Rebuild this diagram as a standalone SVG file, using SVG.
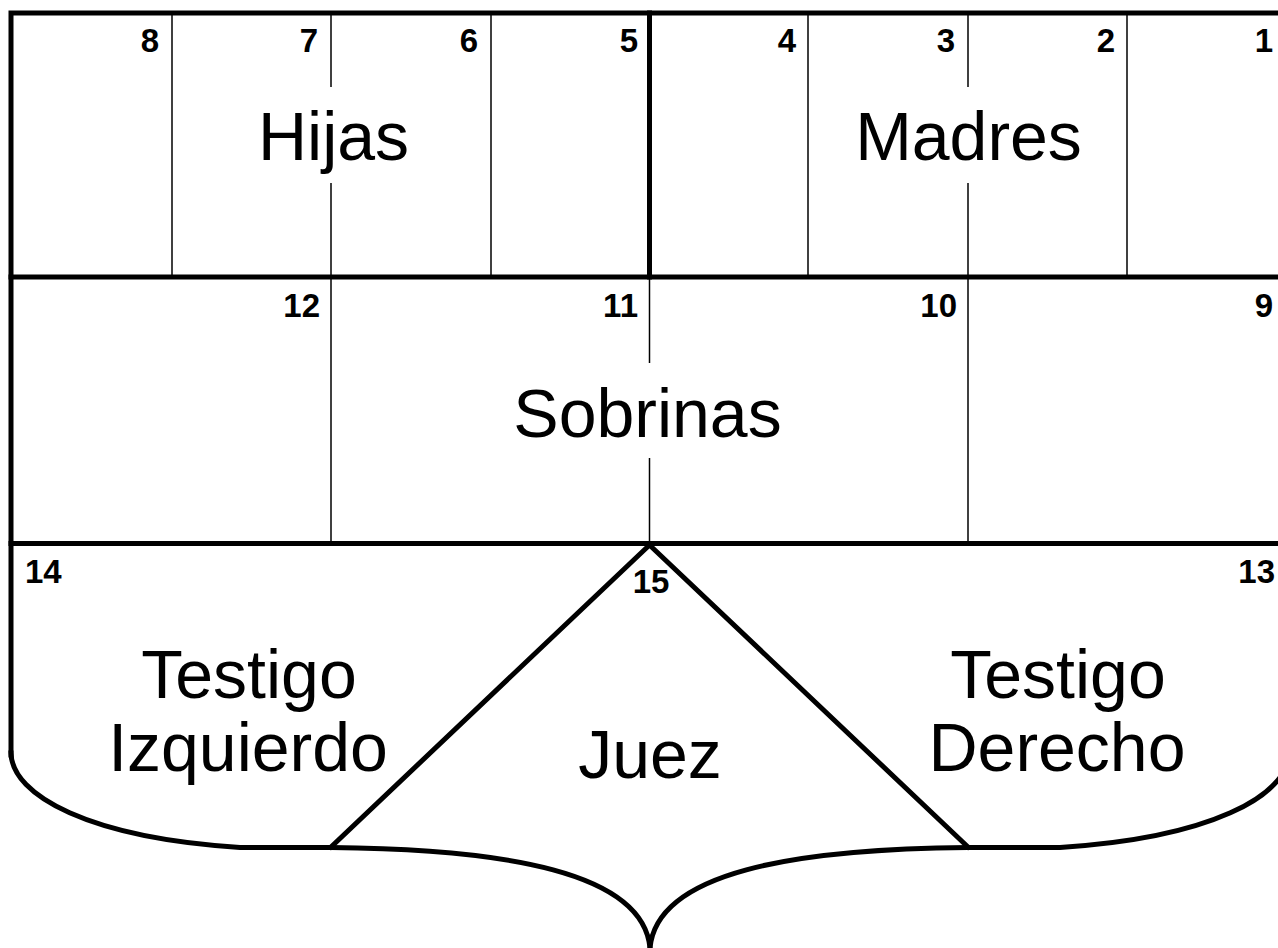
<svg xmlns="http://www.w3.org/2000/svg" width="1278" height="948" viewBox="0 0 1278 948">
<style>
.thick{stroke:#000;stroke-width:5;fill:none;stroke-linecap:square}
.thin{stroke:#000;stroke-width:1.5;fill:none}
.num{font-family:"Liberation Sans",Arial,sans-serif;font-weight:bold;font-size:33px;fill:#000;text-anchor:end}
.lbl{font-family:"Liberation Sans",Arial,sans-serif;font-size:68px;fill:#000;text-anchor:middle}
</style>
<rect width="1278" height="948" fill="#fff"/>
<g id="frame">
<path class="thick" d="M11,755 L11,13 L1289,13 L1289,755"/>
<line class="thick" x1="11" y1="277" x2="1289" y2="277"/>
<line class="thick" x1="11" y1="543.5" x2="1289" y2="543.5"/>
<line class="thick" x1="649.5" y1="13" x2="649.5" y2="277"/>
</g>
<g id="dividers">
<line class="thin" x1="172" y1="13" x2="172" y2="277"/>
<line class="thin" x1="331" y1="13" x2="331" y2="87"/>
<line class="thin" x1="331" y1="183" x2="331" y2="277"/>
<line class="thin" x1="491" y1="13" x2="491" y2="277"/>
<line class="thin" x1="808" y1="13" x2="808" y2="277"/>
<line class="thin" x1="968" y1="13" x2="968" y2="87"/>
<line class="thin" x1="968" y1="183" x2="968" y2="277"/>
<line class="thin" x1="1127" y1="13" x2="1127" y2="277"/>
<line class="thin" x1="331" y1="277" x2="331" y2="543"/>
<line class="thin" x1="649.5" y1="277" x2="649.5" y2="363"/>
<line class="thin" x1="649.5" y1="458" x2="649.5" y2="543"/>
<line class="thin" x1="968" y1="277" x2="968" y2="543"/>
</g>
<g id="bottom">
<path class="thick" stroke-linecap="butt" stroke-linejoin="round" d="M331,847 L649.5,545 L968,847"/>
<path class="thick" stroke-linecap="butt" d="M11,753 C12,796 90,838 240,847.5 L331,847.5 C505,849 643,872 650,948"/>
<path class="thick" stroke-linecap="butt" d="M1289,753 C1288,796 1210,838 1060,847.5 L968,847.5 C794,849 657,872 650,948"/>
</g>
<g id="numbers">
<text class="num" x="159" y="52">8</text>
<text class="num" x="318" y="52">7</text>
<text class="num" x="478" y="52">6</text>
<text class="num" x="638" y="52">5</text>
<text class="num" x="796" y="52">4</text>
<text class="num" x="955" y="52">3</text>
<text class="num" x="1115" y="52">2</text>
<text class="num" x="1273" y="52">1</text>
<text class="num" x="320" y="317">12</text>
<text class="num" x="638" y="317">11</text>
<text class="num" x="957" y="317">10</text>
<text class="num" x="1273" y="317">9</text>
<text class="num" x="25" y="583" style="text-anchor:start">14</text>
<text class="num" x="651" y="593" style="text-anchor:middle">15</text>
<text class="num" x="1275" y="583">13</text>
</g>
<g id="hijas"><text class="lbl" x="333.5" y="160">Hijas</text></g>
<g id="madres"><text class="lbl" x="968.5" y="160">Madres</text></g>
<g id="sobrinas"><text class="lbl" x="647.5" y="437">Sobrinas</text></g>
<g id="testigo-izquierdo"><text class="lbl" x="249" y="698">Testigo</text><text class="lbl" x="248" y="771">Izquierdo</text></g>
<g id="juez"><text class="lbl" x="650" y="778">Juez</text></g>
<g id="testigo-derecho"><text class="lbl" x="1058" y="698">Testigo</text><text class="lbl" x="1057" y="771">Derecho</text></g>
</svg>
